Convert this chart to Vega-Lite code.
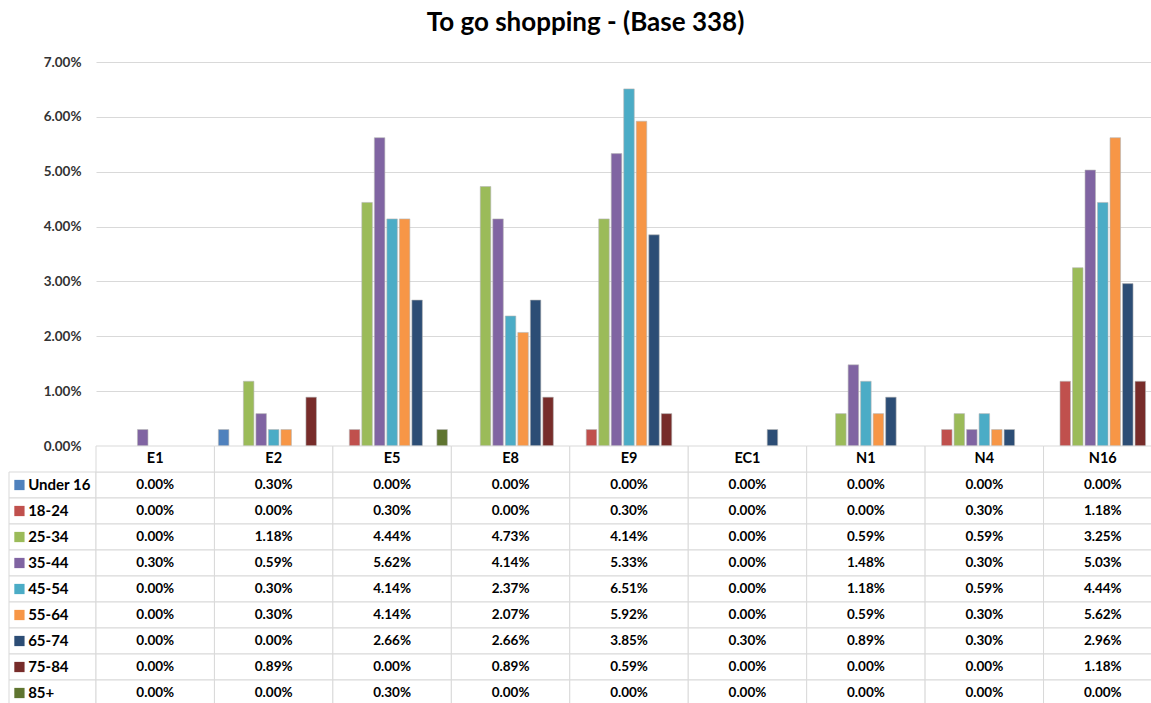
{
  "$schema": "https://vega.github.io/schema/vega-lite/v6.json",
  "background": "white",
  "padding": {"left": 8, "top": 10, "right": 0, "bottom": 0},
  "bounds": "flush",
  "align": "each",
  "spacing": 0,
  "columns": 2,
  "title": {"text": "To go shopping - (Base 338)", "anchor": "middle", "font": "Lato", "fontSize": 26, "fontWeight": "bold", "color": "#000000", "offset": 19},
  "config": {"view": {"stroke": null}, "font": "Lato"},
  "datasets": {
    "vals": [
      {"cat": "E1", "series": "Under 16", "v": 0}, {"cat": "E1", "series": "18-24", "v": 0}, {"cat": "E1", "series": "25-34", "v": 0}, {"cat": "E1", "series": "35-44", "v": 0.003}, {"cat": "E1", "series": "45-54", "v": 0}, {"cat": "E1", "series": "55-64", "v": 0}, {"cat": "E1", "series": "65-74", "v": 0}, {"cat": "E1", "series": "75-84", "v": 0}, {"cat": "E1", "series": "85+", "v": 0},
      {"cat": "E2", "series": "Under 16", "v": 0.003}, {"cat": "E2", "series": "18-24", "v": 0}, {"cat": "E2", "series": "25-34", "v": 0.0118}, {"cat": "E2", "series": "35-44", "v": 0.0059}, {"cat": "E2", "series": "45-54", "v": 0.003}, {"cat": "E2", "series": "55-64", "v": 0.003}, {"cat": "E2", "series": "65-74", "v": 0}, {"cat": "E2", "series": "75-84", "v": 0.0089}, {"cat": "E2", "series": "85+", "v": 0},
      {"cat": "E5", "series": "Under 16", "v": 0}, {"cat": "E5", "series": "18-24", "v": 0.003}, {"cat": "E5", "series": "25-34", "v": 0.0444}, {"cat": "E5", "series": "35-44", "v": 0.0562}, {"cat": "E5", "series": "45-54", "v": 0.0414}, {"cat": "E5", "series": "55-64", "v": 0.0414}, {"cat": "E5", "series": "65-74", "v": 0.0266}, {"cat": "E5", "series": "75-84", "v": 0}, {"cat": "E5", "series": "85+", "v": 0.003},
      {"cat": "E8", "series": "Under 16", "v": 0}, {"cat": "E8", "series": "18-24", "v": 0}, {"cat": "E8", "series": "25-34", "v": 0.0473}, {"cat": "E8", "series": "35-44", "v": 0.0414}, {"cat": "E8", "series": "45-54", "v": 0.0237}, {"cat": "E8", "series": "55-64", "v": 0.0207}, {"cat": "E8", "series": "65-74", "v": 0.0266}, {"cat": "E8", "series": "75-84", "v": 0.0089}, {"cat": "E8", "series": "85+", "v": 0},
      {"cat": "E9", "series": "Under 16", "v": 0}, {"cat": "E9", "series": "18-24", "v": 0.003}, {"cat": "E9", "series": "25-34", "v": 0.0414}, {"cat": "E9", "series": "35-44", "v": 0.0533}, {"cat": "E9", "series": "45-54", "v": 0.0651}, {"cat": "E9", "series": "55-64", "v": 0.0592}, {"cat": "E9", "series": "65-74", "v": 0.0385}, {"cat": "E9", "series": "75-84", "v": 0.0059}, {"cat": "E9", "series": "85+", "v": 0},
      {"cat": "EC1", "series": "Under 16", "v": 0}, {"cat": "EC1", "series": "18-24", "v": 0}, {"cat": "EC1", "series": "25-34", "v": 0}, {"cat": "EC1", "series": "35-44", "v": 0}, {"cat": "EC1", "series": "45-54", "v": 0}, {"cat": "EC1", "series": "55-64", "v": 0}, {"cat": "EC1", "series": "65-74", "v": 0.003}, {"cat": "EC1", "series": "75-84", "v": 0}, {"cat": "EC1", "series": "85+", "v": 0},
      {"cat": "N1", "series": "Under 16", "v": 0}, {"cat": "N1", "series": "18-24", "v": 0}, {"cat": "N1", "series": "25-34", "v": 0.0059}, {"cat": "N1", "series": "35-44", "v": 0.0148}, {"cat": "N1", "series": "45-54", "v": 0.0118}, {"cat": "N1", "series": "55-64", "v": 0.0059}, {"cat": "N1", "series": "65-74", "v": 0.0089}, {"cat": "N1", "series": "75-84", "v": 0}, {"cat": "N1", "series": "85+", "v": 0},
      {"cat": "N4", "series": "Under 16", "v": 0}, {"cat": "N4", "series": "18-24", "v": 0.003}, {"cat": "N4", "series": "25-34", "v": 0.0059}, {"cat": "N4", "series": "35-44", "v": 0.003}, {"cat": "N4", "series": "45-54", "v": 0.0059}, {"cat": "N4", "series": "55-64", "v": 0.003}, {"cat": "N4", "series": "65-74", "v": 0.003}, {"cat": "N4", "series": "75-84", "v": 0}, {"cat": "N4", "series": "85+", "v": 0},
      {"cat": "N16", "series": "Under 16", "v": 0}, {"cat": "N16", "series": "18-24", "v": 0.0118}, {"cat": "N16", "series": "25-34", "v": 0.0325}, {"cat": "N16", "series": "35-44", "v": 0.0503}, {"cat": "N16", "series": "45-54", "v": 0.0444}, {"cat": "N16", "series": "55-64", "v": 0.0562}, {"cat": "N16", "series": "65-74", "v": 0.0296}, {"cat": "N16", "series": "75-84", "v": 0.0118}, {"cat": "N16", "series": "85+", "v": 0}
    ]
  },
  "concat": [
    {
      "width": 87, "height": 384,
      "data": {"values": [{"a": 1}]},
      "mark": {"type": "text", "text": ""},
      "encoding": {}
    },
    {
      "width": 1066, "height": 384,
      "data": {"name": "vals"},
      "transform": [{"filter": "datum.v > 0"}],
      "mark": {"type": "bar", "stroke": "#b5b5b5", "strokeWidth": 0.6},
      "encoding": {
        "x": {"field": "cat", "type": "nominal", "sort": null, "scale": {"domain": ["E1", "E2", "E5", "E8", "E9", "EC1", "N1", "N4", "N16"], "padding": 0}, "axis": null},
        "xOffset": {"field": "series", "type": "nominal", "scale": {"domain": ["Under 16", "18-24", "25-34", "35-44", "45-54", "55-64", "65-74", "75-84", "85+"], "paddingInner": 0.16, "paddingOuter": 0.315}},
        "y": {"field": "v", "type": "quantitative", "scale": {"domain": [0, 0.07]},
          "axis": {"values": [0, 0.01, 0.02, 0.03, 0.04, 0.05, 0.06, 0.07], "format": ".2%", "grid": true, "gridColor": "#d9d9d9", "gridWidth": 1, "domain": false, "ticks": false, "labelPadding": 15, "labelFont": "Lato", "labelFontWeight": "bold", "labelFontSize": 13.5, "labelColor": "#333333", "title": null}},
        "color": {"field": "series", "type": "nominal", "scale": {"domain": ["Under 16", "18-24", "25-34", "35-44", "45-54", "55-64", "65-74", "75-84", "85+"], "range": ["#4F81BD", "#C0504D", "#9BBB59", "#8064A2", "#4BACC6", "#F79646", "#2C4D75", "#772C2A", "#5F7530"]}, "legend": null}
      }
    },
    {
      "width": 87, "height": 260,
      "data": {"name": "vals"},
      "transform": [{"filter": "datum.cat == 'E1'"}],
      "layer": [
        {
          "mark": {"type": "rect", "fill": "white", "stroke": "#d9d9d9", "strokeWidth": 1},
          "encoding": {
            "y": {"field": "series", "type": "nominal", "scale": {"domain": ["hdr", "Under 16", "18-24", "25-34", "35-44", "45-54", "55-64", "65-74", "75-84", "85+"], "padding": 0}, "axis": null}
          }
        },
        {
          "mark": {"type": "point", "shape": "square", "filled": true, "size": 105, "opacity": 1},
          "encoding": {
            "x": {"datum": 0.12, "type": "quantitative", "scale": {"domain": [0, 1]}, "axis": null},
            "y": {"field": "series", "type": "nominal"},
            "color": {"field": "series", "type": "nominal", "scale": {"domain": ["Under 16", "18-24", "25-34", "35-44", "45-54", "55-64", "65-74", "75-84", "85+"], "range": ["#4F81BD", "#C0504D", "#9BBB59", "#8064A2", "#4BACC6", "#F79646", "#2C4D75", "#772C2A", "#5F7530"]}, "legend": null}
          }
        },
        {
          "mark": {"type": "text", "align": "left", "baseline": "middle", "font": "Lato", "fontWeight": "bold", "fontSize": 15, "color": "#000000"},
          "encoding": {
            "x": {"datum": 0.22, "type": "quantitative"},
            "y": {"field": "series", "type": "nominal"},
            "text": {"field": "series"}
          }
        }
      ]
    },
    {
      "width": 1066, "height": 260,
      "data": {"name": "vals"},
      "layer": [
        {
          "mark": {"type": "rect", "fill": "white", "stroke": "#d9d9d9", "strokeWidth": 1},
          "encoding": {
            "x": {"field": "cat", "type": "nominal", "sort": null, "scale": {"domain": ["E1", "E2", "E5", "E8", "E9", "EC1", "N1", "N4", "N16"], "padding": 0}, "axis": null},
            "y": {"field": "series", "type": "nominal", "scale": {"domain": ["hdr", "Under 16", "18-24", "25-34", "35-44", "45-54", "55-64", "65-74", "75-84", "85+"], "padding": 0}, "axis": null}
          }
        },
        {
          "transform": [{"filter": "datum.series == 'Under 16'"}],
          "mark": {"type": "rect", "fill": "white", "stroke": "#d9d9d9", "strokeWidth": 1},
          "encoding": {
            "x": {"field": "cat", "type": "nominal"},
            "y": {"datum": "hdr", "type": "nominal"}
          }
        },
        {
          "mark": {"type": "text", "align": "center", "baseline": "middle", "font": "Lato", "fontWeight": "bold", "fontSize": 13.5, "color": "#000000"},
          "encoding": {
            "x": {"field": "cat", "type": "nominal"},
            "y": {"field": "series", "type": "nominal"},
            "text": {"field": "v", "type": "quantitative", "format": ".2%"}
          }
        },
        {
          "transform": [{"filter": "datum.series == 'Under 16'"}],
          "mark": {"type": "text", "align": "center", "baseline": "middle", "font": "Lato", "fontWeight": "bold", "fontSize": 14.5, "color": "#000000"},
          "encoding": {
            "x": {"field": "cat", "type": "nominal"},
            "y": {"datum": "hdr", "type": "nominal"},
            "text": {"field": "cat"}
          }
        }
      ]
    }
  ]
}
